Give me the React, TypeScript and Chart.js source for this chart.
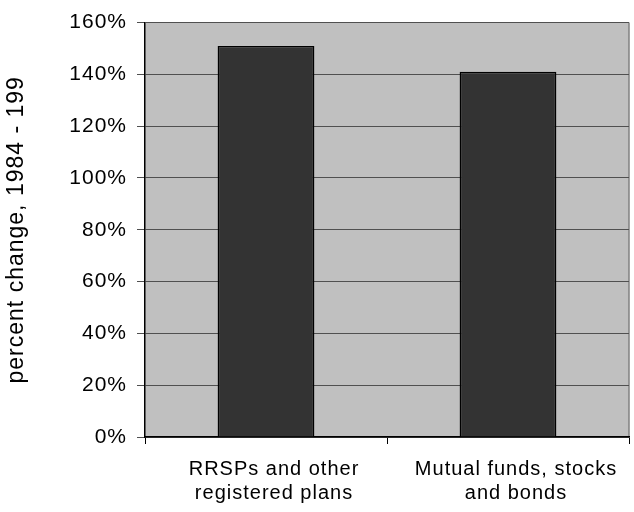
import React, { useEffect, useRef } from "react";
import { Chart, registerables } from "chart.js";

Chart.register(...registerables);

const categories: string[][] = [
  ["RRSPs and other", "registered plans"],
  ["Mutual funds, stocks", "and bonds"],
];
const values: number[] = [151, 141];
const yTitle = "percent change, 1984 - 199";
const yMin = 0;
const yMax = 160;
const yStep = 20;

const FONT = "'Liberation Sans', Arial, sans-serif";

const plotBg = {
  id: "plotBg",
  beforeUpdate(chart: any) {
    chart.ctx.letterSpacing = "1px";
  },
  beforeDraw(chart: any) {
    const { ctx, chartArea } = chart;
    ctx.letterSpacing = "1px";
    ctx.save();
    ctx.fillStyle = "#C0C0C0";
    ctx.fillRect(chartArea.left, chartArea.top, chartArea.right - chartArea.left, chartArea.bottom - chartArea.top);
    ctx.strokeStyle = "#808080";
    ctx.lineWidth = 1.5;
    ctx.beginPath();
    ctx.moveTo(chartArea.right, chartArea.top);
    ctx.lineTo(chartArea.right, chartArea.bottom);
    ctx.stroke();
    ctx.restore();
  },
};

export default function App() {
  const ref = useRef<HTMLCanvasElement>(null);
  useEffect(() => {
    if (!ref.current) return;
    const chart = new Chart(ref.current, {
      type: "bar",
      data: {
        labels: categories,
        datasets: [
          {
            data: values,
            backgroundColor: "#333333",
            borderColor: "#000000",
            borderWidth: 1.5,
            categoryPercentage: 1,
            barPercentage: 0.4,
          },
        ],
      },
      options: {
        animation: false,
        responsive: false,
        maintainAspectRatio: false,
        layout: { padding: { top: 20, right: 5, left: 0, bottom: 0 } },
        plugins: {
          legend: { display: false },
          tooltip: { enabled: false },
        },
        scales: {
          x: {
            grid: {
              display: true,
              drawOnChartArea: false,
              drawTicks: true,
              tickLength: 7,
              color: "#000000",
              offset: true,
            },
            border: { display: true, color: "#000000", width: 1.5 },
            ticks: {
              color: "#000000",
              font: { family: FONT, size: 20, lineHeight: 1.2 },
              padding: 13,
              labelOffset: 8,
              maxRotation: 0,
              autoSkip: false,
            },
            afterFit: (scale: any) => {
              scale.height = 75;
            },
          },
          y: {
            min: yMin,
            max: yMax,
            grid: {
              color: "#505050",
              lineWidth: 1,
              drawTicks: true,
              tickLength: 8,
            },
            border: { display: true, color: "#000000", width: 1.5 },
            ticks: {
              stepSize: yStep,
              color: "#000000",
              font: { family: FONT, size: 21 },
              padding: 10,
              callback: (v: any) => v + "%",
            },
            title: {
              display: true,
              text: yTitle,
              color: "#000000",
              font: { family: FONT, size: 23, lineHeight: 1.2 },
              padding: { top: 3, bottom: 0 },
            },
            afterFit: (scale: any) => {
              scale.width = 145;
            },
          },
        },
      },
      plugins: [plotBg],
    });
    return () => chart.destroy();
  }, []);
  return (
    <div style={{ position: "fixed", left: 0, top: 0, width: 634, height: 512, background: "#fff" }}>
      <canvas ref={ref} width={634} height={512} style={{ width: 634, height: 512 }} />
    </div>
  );
}
